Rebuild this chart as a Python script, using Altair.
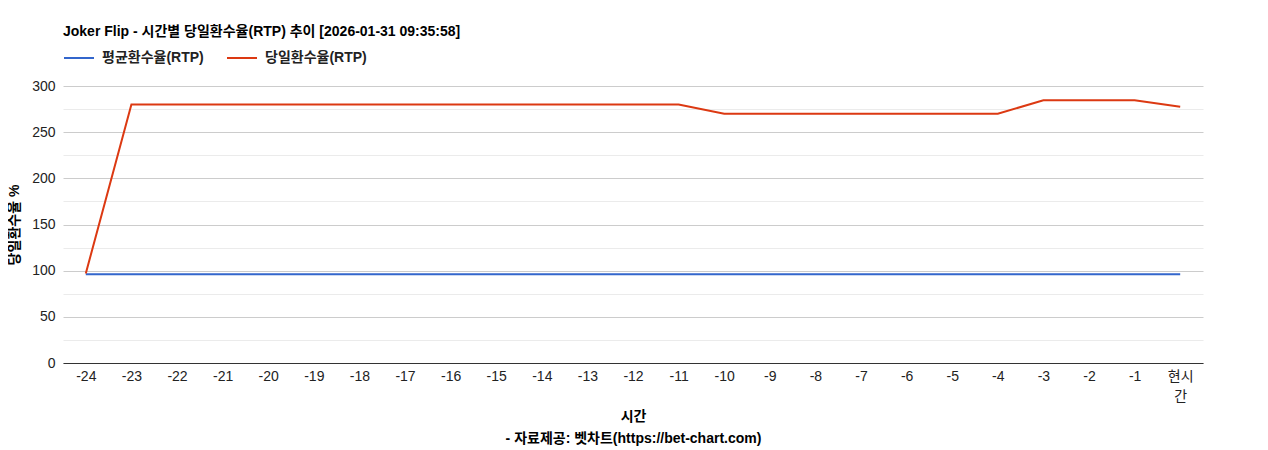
import altair as alt
import pandas as pd

hours = [str(h) for h in range(-24, 0)] + ["현시간"]
avg_rtp = [96] * 25
day_rtp = [97] + [280] * 13 + [270] * 7 + [284.5] * 3 + [277.5]

series_names = ["평균환수율(RTP)", "당일환수율(RTP)"]
colors = ["#3366cc", "#dc3912"]

rows = []
for i, h in enumerate(hours):
    rows.append({"시간": h, "series": series_names[0], "value": avg_rtp[i], "order": 0})
    rows.append({"시간": h, "series": series_names[1], "value": day_rtp[i], "order": 1})
df = pd.DataFrame(rows)

FONT = "Arial, 'Liberation Sans', 'Noto Sans CJK KR'"

chart = alt.Chart(df).mark_line(strokeWidth=2).encode(
    x=alt.X("시간:N", sort=hours,
            scale=alt.Scale(type="point", padding=0.5),
            axis=alt.Axis(title=["시간", "- 자료제공: 벳차트(https://bet-chart.com)"],
                          titleFontWeight="bold", titleFontSize=14, titleColor="#000",
                          titlePadding=6, titleLineHeight=22,
                          labelAngle=0, labelFontSize=14, labelColor="#222",
                          labelPadding=6, labelLineHeight=20,
                          labelExpr="datum.label == '현시간' ? ['현시', '간'] : datum.label",
                          ticks=False, grid=False, domainColor="#333",
                          labelFont=FONT, titleFont=FONT)),
    y=alt.Y("value:Q", scale=alt.Scale(domain=[0, 300], nice=False),
            axis=alt.Axis(title="당일환수율 %", titleFontWeight="bold", titleFontSize=14,
                          titleColor="#000", titlePadding=10,
                          values=list(range(0, 301, 25)),
                          labelExpr="datum.value % 50 === 0 ? datum.label : ''",
                          labelFontSize=14, labelColor="#222", labelPadding=8,
                          ticks=False, domain=False,
                          gridColor={"condition": {"test": "datum.value % 50 === 0", "value": "#cccccc"},
                                     "value": "#ebebeb"},
                          labelFont=FONT, titleFont=FONT)),
    color=alt.Color("series:N", sort=series_names,
                    scale=alt.Scale(domain=series_names, range=colors),
                    legend=alt.Legend(title=None, orient="none", direction="horizontal",
                                      legendX=0, legendY=-44,
                                      symbolType="stroke", symbolSize=900, symbolStrokeWidth=2,
                                      labelOffset=7,
                                      labelFontSize=14, labelFontWeight="bold", labelColor="#222",
                                      labelFont=FONT, columnPadding=19)),
    order=alt.Order("order:Q"),
    detail="series:N",
).properties(
    width=1140, height=277,
    title=alt.TitleParams("Joker Flip - 시간별 당일환수율(RTP) 추이 [2026-01-31 09:35:58]",
                          anchor="start", frame="group", fontSize=14, fontWeight="bold",
                          color="#000", font=FONT, offset=3),
    autosize=alt.AutoSizeParams(type="none"),
    padding={"left": 55, "top": 78, "right": 57, "bottom": 84},
).configure_view(stroke=None)

chart.save("out.html", embed_options={"renderer": "svg", "actions": False})
